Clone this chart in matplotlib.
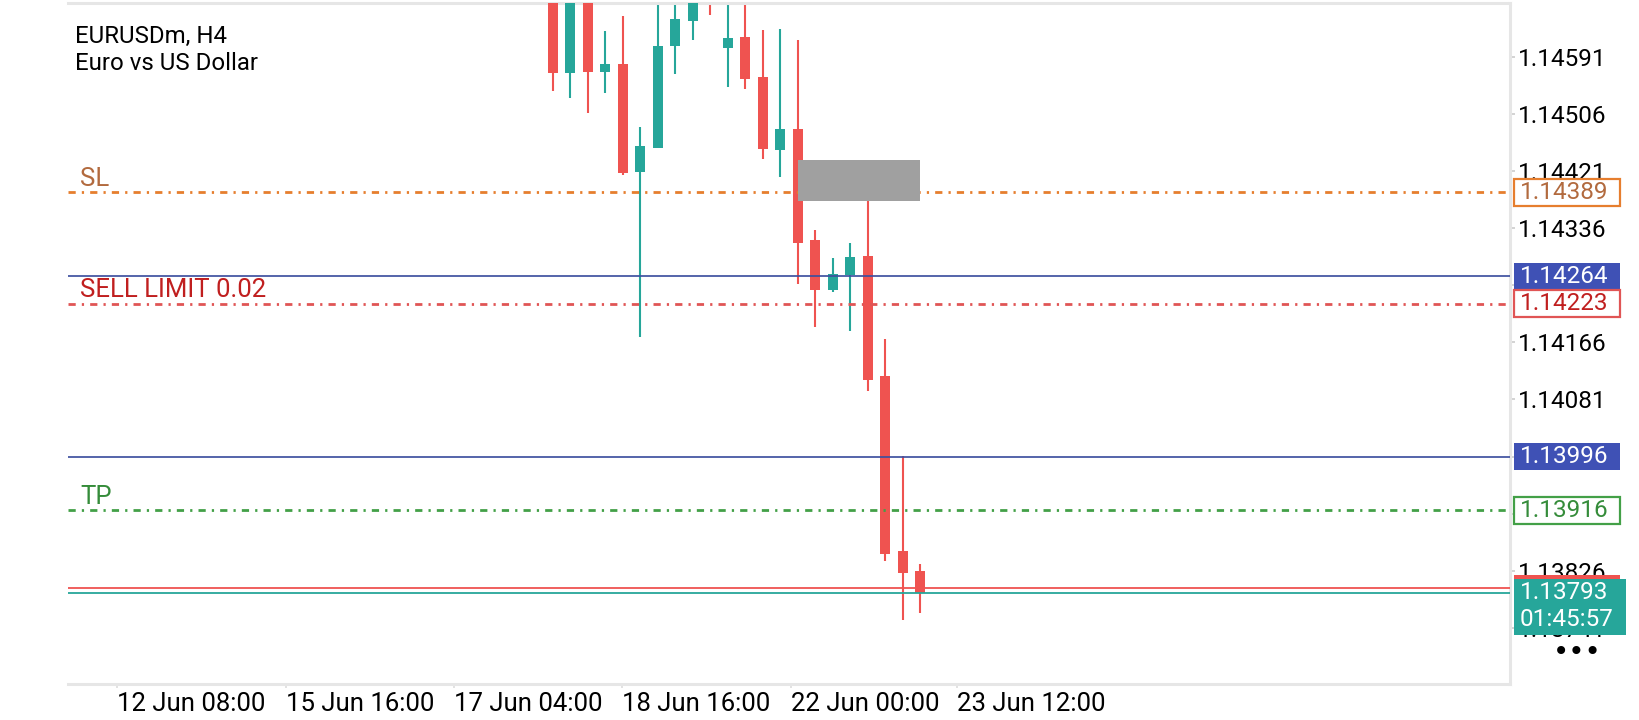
import matplotlib
matplotlib.use('Agg')
import matplotlib.pyplot as plt
from matplotlib.patches import Rectangle
from matplotlib.transforms import blended_transform_factory
import numpy as np

plt.rcParams['font.family'] = ['Roboto', 'DejaVu Sans']
plt.rcParams['lines.scale_dashes'] = False

# ---------------- data ----------------
symbol_title = "EURUSDm, H4"
symbol_desc = "Euro vs US Dollar"

opens  = [1.14720, 1.14567, 1.14710, 1.14568, 1.14580, 1.14419, 1.14455, 1.14606,
          1.14644, 1.14720, 1.14603, 1.14620, 1.14561, 1.14452, 1.14483, 1.14318,
          1.14244, 1.14266, 1.14294, 1.14116, 1.13855, 1.13826]
highs  = [1.14760, 1.14740, 1.14740, 1.14629, 1.14651, 1.14486, 1.14690, 1.14700,
          1.14720, 1.14740, 1.14690, 1.14690, 1.14630, 1.14632, 1.14616, 1.14333,
          1.14291, 1.14314, 1.14410, 1.14171, 1.13997, 1.13836]
lows   = [1.14539, 1.14530, 1.14507, 1.14536, 1.14415, 1.14174, 1.14455, 1.14565,
          1.14616, 1.14653, 1.14545, 1.14542, 1.14439, 1.14412, 1.14253, 1.14188,
          1.14241, 1.14183, 1.14093, 1.13841, 1.13753, 1.13763]
closes = [1.14567, 1.14700, 1.14568, 1.14580, 1.14417, 1.14458, 1.14607, 1.14647,
          1.14690, 1.14690, 1.14619, 1.14558, 1.14454, 1.14483, 1.14314, 1.14243,
          1.14268, 1.14293, 1.14110, 1.13851, 1.13823, 1.13793]

xtick_labels = ["12 Jun 08:00", "15 Jun 16:00", "17 Jun 04:00", "18 Jun 16:00",
                "22 Jun 00:00", "23 Jun 12:00"]
xtick_bars = [-24.91, -15.26, -5.66, 3.94, 13.6, 23.09]

ytick_values = [1.14591, 1.14506, 1.14421, 1.14336, 1.14251, 1.14166, 1.14081,
                1.13996, 1.13911, 1.13826, 1.13741]
# tick labels fully covered by price boxes in the reference
ytick_hidden = [1.14251, 1.13996, 1.13911]

sl_price = 1.14389
sell_limit_price = 1.14223
tp_price = 1.13916
blue_levels = [1.14264, 1.13996]
bid_price = 1.13793
ask_price = 1.13800
countdown = "01:45:57"
order_label = "SELL LIMIT 0.02"

zone_bars = (14, 21)
zone_prices = (1.14376, 1.14437)

# ---------------- style ----------------
RED = '#ef5350'
TEAL = '#26a69a'
BLUE = '#3f51b5'
BLUE_LINE = '#3d4f9f'
ORANGE = '#e67e2e'
ORANGE_TXT = '#b26a3e'
SLRED = '#e05555'
SLRED_TXT = '#c01f1f'
GREEN = '#43a047'
GREEN_TXT = '#358c3a'
SPINE = '#e6e6e6'
DASHDOT = (0, (5.2, 4.4, 1.6, 4.4))
FS = 17.5

W, H = 1640, 720
fig = plt.figure(figsize=(W / 100, H / 100), dpi=100)
fig.patch.set_facecolor('white')
ax_l, ax_r, ax_t, ax_b = 68, 1510, 3, 684
ax = fig.add_axes([ax_l / W, 1 - ax_b / H, (ax_r - ax_l) / W, (ax_b - ax_t) / H])
ax.set_facecolor('white')

ylo, yhi = 1.136576, 1.146706
ax.set_xlim(-27.71, 54.69)
ax.set_ylim(ylo, yhi)
px_per_price = (ax_b - ax_t) / (yhi - ylo)
axw = ax_r - ax_l

def px2price(px):
    return px / px_per_price

def fx(px):
    return (px - ax_l) / axw

# candles
idx = np.arange(len(opens))
o = np.array(opens); c = np.array(closes)
cols = [TEAL if cc >= oo else RED for oo, cc in zip(o, c)]
ax.vlines(idx, lows, highs, colors=cols, linewidth=1.5, zorder=2)
ax.bar(idx, np.abs(c - o), bottom=np.minimum(o, c), width=0.57, color=cols,
       zorder=3, linewidth=0)

# horizontal levels
ax.axhline(sl_price, color=ORANGE, lw=2.0, linestyle=DASHDOT, zorder=4)
ax.axhline(sell_limit_price, color=SLRED, lw=2.0, linestyle=DASHDOT, zorder=4)
ax.axhline(tp_price, color=GREEN, lw=2.0, linestyle=DASHDOT, zorder=4)
for lv in blue_levels:
    ax.axhline(lv, color=BLUE_LINE, lw=1.3, zorder=4, alpha=0.95)
ax.axhline(ask_price, color=RED, lw=1.3, zorder=4)
ax.axhline(bid_price, color=TEAL, lw=1.3, zorder=4)

# grey zone
ax.add_patch(Rectangle((zone_bars[0], zone_prices[0]), zone_bars[1] - zone_bars[0],
                       zone_prices[1] - zone_prices[0], facecolor='#a0a0a0',
                       edgecolor='none', zorder=5))

# line labels on left
trans = blended_transform_factory(ax.transAxes, ax.transData)
for txt, p, col in [("SL", sl_price, ORANGE_TXT),
                    (order_label, sell_limit_price, SLRED_TXT),
                    ("TP", tp_price, GREEN_TXT)]:
    ax.annotate(txt, xy=(fx(80), p), xycoords=trans, xytext=(0, 9.8),
                textcoords='offset points', va='center', ha='left',
                fontsize=18.5, color=col, zorder=6)

# spines and ticks
ax.spines['left'].set_visible(False)
for s in ['top', 'bottom', 'right']:
    ax.spines[s].set_color(SPINE)
    ax.spines[s].set_linewidth(2.2)

ax.set_xticks(xtick_bars)
ax.set_xticklabels(xtick_labels, ha='left')
ax.tick_params(axis='x', length=3, width=1.2, color='#dddddd', pad=3,
               labelsize=18.5, labelcolor='black')
ax.yaxis.tick_right()
ax.set_yticks(ytick_values)
ax.set_yticklabels(["" if v in ytick_hidden else f"{v:.5f}" for v in ytick_values])
ax.tick_params(axis='y', length=3.6, width=1.2, color='#cccccc', pad=2,
               labelsize=FS, labelcolor='black')

# price boxes on right
box_x = fx(1514)
box_w = 106 / axw
box_h = px2price(27)
txt_x = fx(1520)

def price_box(price, text, edge, face, tcolor, z=7):
    ax.add_patch(Rectangle((box_x, price - box_h / 2), box_w, box_h, transform=trans,
                           facecolor=face, edgecolor=edge, linewidth=1.6,
                           clip_on=False, zorder=z))
    ax.text(txt_x, price, text, transform=trans, va='center', ha='left',
            fontsize=FS, color=tcolor, clip_on=False, zorder=z + 0.5)

price_box(sl_price, f"{sl_price:.5f}", ORANGE, 'white', ORANGE_TXT)
price_box(blue_levels[0], f"{blue_levels[0]:.5f}", 'none', BLUE, 'white')
price_box(sell_limit_price, f"{sell_limit_price:.5f}", SLRED, 'white', SLRED_TXT)
price_box(blue_levels[1], f"{blue_levels[1]:.5f}", 'none', BLUE, 'white')
price_box(tp_price, f"{tp_price:.5f}", GREEN, 'white', GREEN_TXT)
# ask box (mostly hidden)
ax.add_patch(Rectangle((box_x, ask_price - box_h / 2), box_w, box_h, transform=trans,
                       facecolor=RED, edgecolor='none', clip_on=False, zorder=7))
# bid box with countdown
ax.add_patch(Rectangle((box_x, bid_price - px2price(42.3)), 112 / axw, px2price(56.3),
                       transform=trans, facecolor=TEAL, edgecolor='none',
                       clip_on=False, zorder=8))
ax.text(txt_x, bid_price, f"{bid_price:.5f}", transform=trans, va='center', ha='left',
        fontsize=FS, color='white', clip_on=False, zorder=9)
ax.text(txt_x, bid_price - px2price(27), countdown, transform=trans, va='center',
        ha='left', fontsize=FS, color='white', clip_on=False, zorder=9)

# title
fig.text(75 / W, 1 - 36 / H, symbol_title, fontsize=17.3, color='black', va='center', ha='left')
fig.text(75 / W, 1 - 64 / H, symbol_desc, fontsize=17.3, color='black', va='center', ha='left')

# menu dots
fig.text(1577 / W, 1 - 652 / H, "\u2022\u2022\u2022", fontsize=20, color='black',
         va='center', ha='center', family='DejaVu Sans')

fig.savefig('out.png', dpi=100)
